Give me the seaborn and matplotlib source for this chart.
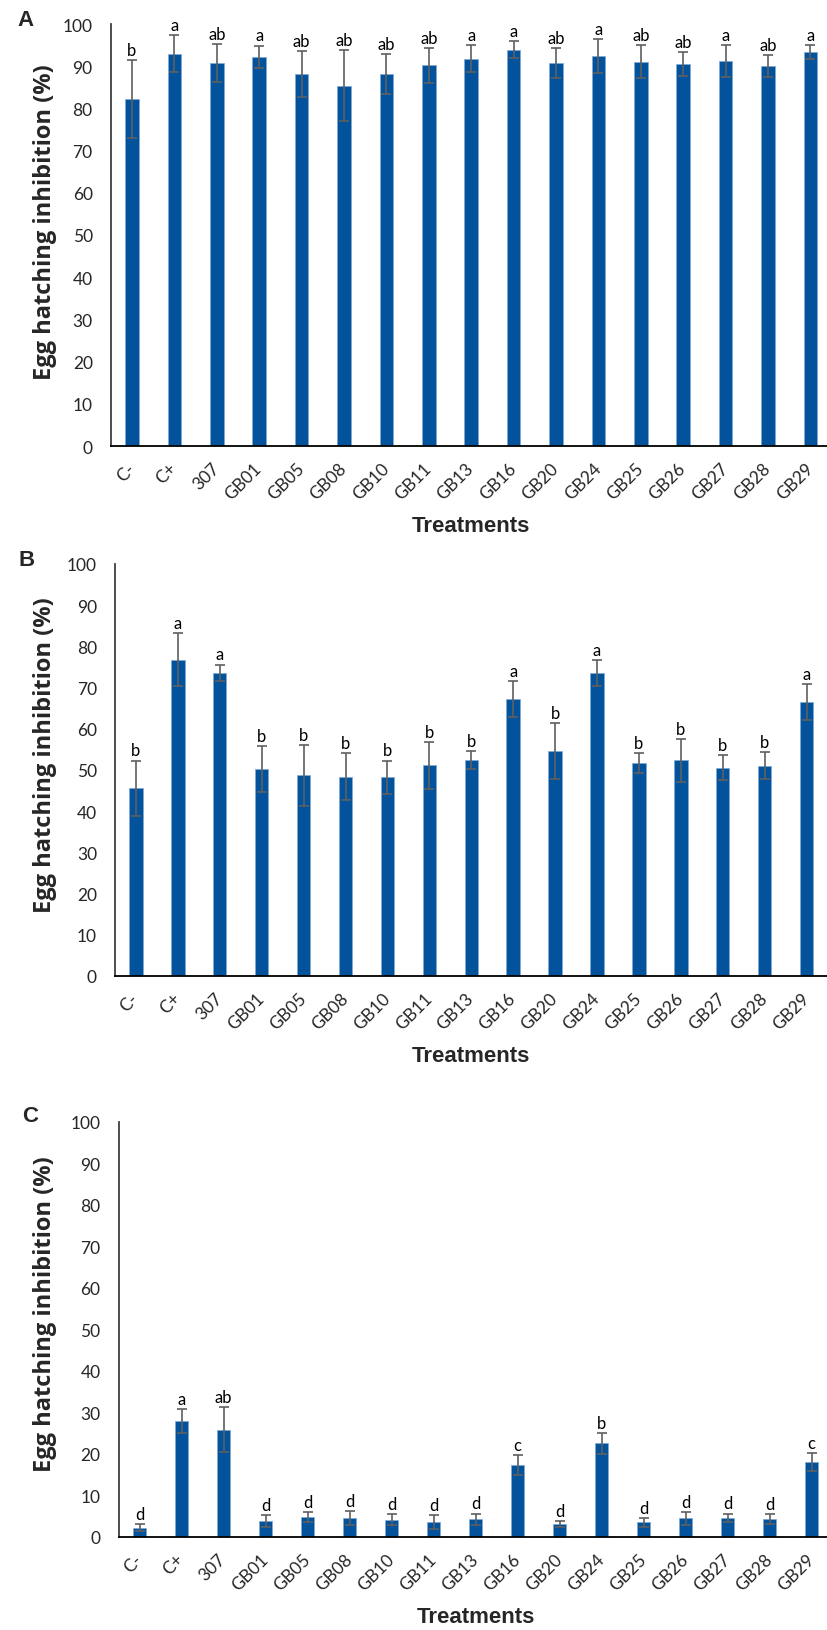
import pandas as pd
import matplotlib
matplotlib.use("Agg")
import matplotlib.pyplot as plt
import seaborn as sns

treatments = ['C-', 'C+', '307', 'GB01', 'GB05', 'GB08', 'GB10', 'GB11', 'GB13',
              'GB16', 'GB20', 'GB24', 'GB25', 'GB26', 'GB27', 'GB28', 'GB29']

# panel A
mean_a = [82.2, 93.0, 90.7, 92.2, 88.1, 85.4, 88.1, 90.2, 91.8, 93.9, 90.7, 92.4, 91.1, 90.5, 91.3, 90.1, 93.4]
err_a = [9.3, 4.3, 4.5, 2.7, 5.5, 8.4, 4.8, 4.2, 3.2, 2.0, 3.6, 4.1, 4.0, 2.9, 3.8, 2.6, 1.6]
let_a = ['b', 'a', 'ab', 'a', 'ab', 'ab', 'ab', 'ab', 'a', 'a', 'ab', 'a', 'ab', 'ab', 'a', 'ab', 'a']

# panel B
mean_b = [45.6, 76.8, 73.6, 50.3, 48.7, 48.4, 48.2, 51.1, 52.5, 67.2, 54.6, 73.5, 51.7, 52.4, 50.6, 51.0, 66.5]
err_b = [6.7, 6.5, 2.0, 5.6, 7.4, 5.7, 4.1, 5.7, 2.2, 4.4, 6.9, 3.2, 2.4, 5.2, 3.1, 3.3, 4.4]
let_b = ['b', 'a', 'a', 'b', 'b', 'b', 'b', 'b', 'b', 'a', 'b', 'a', 'b', 'b', 'b', 'b', 'a']

# panel C
mean_c = [2.2, 27.9, 25.9, 3.9, 4.9, 4.6, 4.2, 3.7, 4.3, 17.3, 3.1, 22.6, 3.5, 4.5, 4.6, 4.4, 18.1]
err_c = [0.85, 2.9, 5.5, 1.45, 1.2, 1.6, 1.3, 1.7, 1.35, 2.45, 0.7, 2.5, 1.1, 1.5, 1.05, 1.2, 2.15]
let_c = ['d', 'a', 'ab', 'd', 'd', 'd', 'd', 'd', 'd', 'c', 'd', 'b', 'd', 'd', 'd', 'd', 'c']

sns.set_style("white")
plt.rcParams['font.family'] = ['Lato', 'DejaVu Sans']

W, H = 827, 1631
fig = plt.figure(figsize=(W / 100, H / 100), dpi=100)

bar_color = '#02539B'

# (left px, right px, top px, bottom px, label center y px, letter, letter pos)
panels = [
    (mean_a, err_a, let_a, 110.8, 831.6, 25, 447, 222, 'A', (26, 21)),
    (mean_b, err_b, let_b, 115.0, 827.5, 565, 977, 755, 'B', (27, 560)),
    (mean_c, err_c, let_c, 118.5, 832.5, 1123, 1538, 1314, 'C', (30, 1117)),
]

for means, errs, letters, x0, x1, y0, y1, lab_y, tag, tag_pos in panels:
    ax = fig.add_axes([x0 / W, 1 - y1 / H, (x1 - x0) / W, (y1 - y0) / H])
    df = pd.DataFrame({'Treatment': treatments, 'Value': means, 'Err': errs})
    sns.barplot(data=df, x='Treatment', y='Value', color=bar_color, width=0.32,
                errorbar=None, edgecolor='#7FA9D6', linewidth=0.5, saturation=1, ax=ax)
    ax.errorbar(range(len(treatments)), df['Value'], yerr=df['Err'], fmt='none',
                ecolor='#5f5f5f', elinewidth=1.2, capsize=3.3, capthick=1.2)
    for i, (m, e, l) in enumerate(zip(means, errs, letters)):
        ax.annotate(l, (i, m + e), xytext=(0, 1.5), textcoords='offset points',
                    ha='center', va='bottom', fontsize=12, color='black')
    ax.set_xlim(-0.5, len(treatments) - 0.5)
    ax.set_ylim(0, 100)
    ax.set_yticks(range(0, 101, 10))
    ax.set_xlabel('')
    ax.set_ylabel('')
    ax.tick_params(axis='y', length=0, pad=13, labelsize=12.5)
    ax.tick_params(axis='x', length=0, pad=14, labelsize=12.5)
    for lab in ax.get_xticklabels():
        lab.set_rotation(45)
        lab.set_ha('right')
        lab.set_va('center')
        lab.set_rotation_mode('anchor')
    for s in ['top', 'right']:
        ax.spines[s].set_visible(False)
    ax.spines['left'].set_color('#404040')
    ax.spines['left'].set_linewidth(1.3)
    ax.spines['bottom'].set_color('black')
    ax.spines['bottom'].set_linewidth(1.3)
    ax.annotate('Treatments', (0.5, 0), xycoords='axes fraction', xytext=(0, -57),
                textcoords='offset points', ha='center', va='center',
                fontsize=16, fontweight='bold', family='Liberation Sans')
    fig.text(45 / W, 1 - lab_y / H, 'Egg hatching inhibition (%)', rotation=90,
             ha='center', va='center', fontsize=17, fontweight='bold',
             family='Open Sans')
    fig.text(tag_pos[0] / W, 1 - tag_pos[1] / H, tag, ha='center', va='center',
             fontsize=16, fontweight='bold', family='Liberation Sans')

fig.savefig('out.png', dpi=100)
